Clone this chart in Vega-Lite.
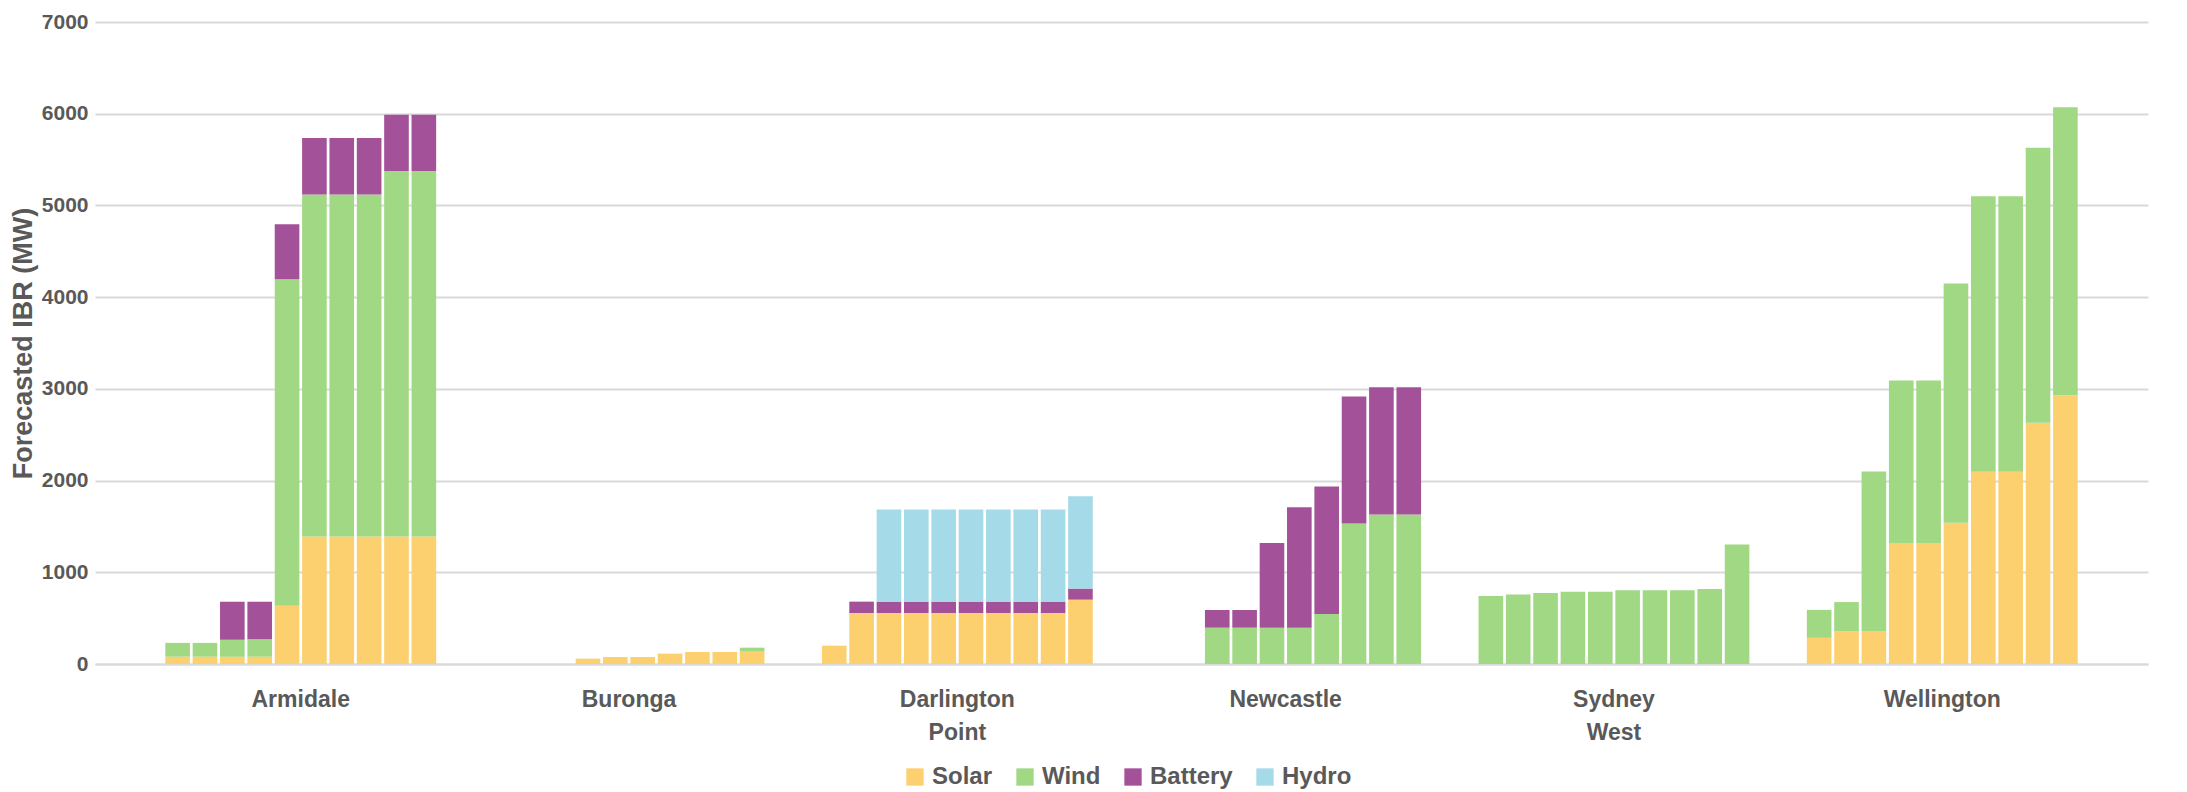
{
  "$schema": "https://vega.github.io/schema/vega-lite/v6.json",
  "width": 2053,
  "height": 642,
  "autosize": {"type": "none"},
  "padding": {"left": 95, "top": 22, "right": 39, "bottom": 128},
  "config": {"view": {"stroke": null}, "font": "Liberation Sans"},
  "datasets": {
    "stackRank": [
      {"type": "Solar", "rank": 1},
      {"type": "Wind", "rank": 2},
      {"type": "Battery", "rank": 3},
      {"type": "Hydro", "rank": 4}
    ],
    "ibr": [
      {"location": "Armidale", "period": 1, "type": "Solar", "value": 80},
      {"location": "Armidale", "period": 1, "type": "Wind", "value": 150},
      {"location": "Armidale", "period": 2, "type": "Solar", "value": 80},
      {"location": "Armidale", "period": 2, "type": "Wind", "value": 150},
      {"location": "Armidale", "period": 3, "type": "Solar", "value": 80},
      {"location": "Armidale", "period": 3, "type": "Wind", "value": 185},
      {"location": "Armidale", "period": 3, "type": "Battery", "value": 415},
      {"location": "Armidale", "period": 4, "type": "Solar", "value": 80},
      {"location": "Armidale", "period": 4, "type": "Wind", "value": 190},
      {"location": "Armidale", "period": 4, "type": "Battery", "value": 410},
      {"location": "Armidale", "period": 5, "type": "Solar", "value": 635},
      {"location": "Armidale", "period": 5, "type": "Wind", "value": 3560},
      {"location": "Armidale", "period": 5, "type": "Battery", "value": 600},
      {"location": "Armidale", "period": 6, "type": "Solar", "value": 1390},
      {"location": "Armidale", "period": 6, "type": "Wind", "value": 3730},
      {"location": "Armidale", "period": 6, "type": "Battery", "value": 615},
      {"location": "Armidale", "period": 7, "type": "Solar", "value": 1390},
      {"location": "Armidale", "period": 7, "type": "Wind", "value": 3730},
      {"location": "Armidale", "period": 7, "type": "Battery", "value": 615},
      {"location": "Armidale", "period": 8, "type": "Solar", "value": 1390},
      {"location": "Armidale", "period": 8, "type": "Wind", "value": 3730},
      {"location": "Armidale", "period": 8, "type": "Battery", "value": 615},
      {"location": "Armidale", "period": 9, "type": "Solar", "value": 1390},
      {"location": "Armidale", "period": 9, "type": "Wind", "value": 3985},
      {"location": "Armidale", "period": 9, "type": "Battery", "value": 615},
      {"location": "Armidale", "period": 10, "type": "Solar", "value": 1390},
      {"location": "Armidale", "period": 10, "type": "Wind", "value": 3985},
      {"location": "Armidale", "period": 10, "type": "Battery", "value": 615},
      {"location": "Buronga", "period": 4, "type": "Solar", "value": 58},
      {"location": "Buronga", "period": 5, "type": "Solar", "value": 76},
      {"location": "Buronga", "period": 6, "type": "Solar", "value": 76},
      {"location": "Buronga", "period": 7, "type": "Solar", "value": 113},
      {"location": "Buronga", "period": 8, "type": "Solar", "value": 131},
      {"location": "Buronga", "period": 9, "type": "Solar", "value": 131},
      {"location": "Buronga", "period": 10, "type": "Solar", "value": 135},
      {"location": "Buronga", "period": 10, "type": "Wind", "value": 43},
      {"location": "Darlington Point", "period": 1, "type": "Solar", "value": 200},
      {"location": "Darlington Point", "period": 2, "type": "Solar", "value": 556},
      {"location": "Darlington Point", "period": 2, "type": "Battery", "value": 124},
      {"location": "Darlington Point", "period": 3, "type": "Solar", "value": 556},
      {"location": "Darlington Point", "period": 3, "type": "Battery", "value": 124},
      {"location": "Darlington Point", "period": 3, "type": "Hydro", "value": 1004},
      {"location": "Darlington Point", "period": 4, "type": "Solar", "value": 556},
      {"location": "Darlington Point", "period": 4, "type": "Battery", "value": 124},
      {"location": "Darlington Point", "period": 4, "type": "Hydro", "value": 1004},
      {"location": "Darlington Point", "period": 5, "type": "Solar", "value": 556},
      {"location": "Darlington Point", "period": 5, "type": "Battery", "value": 124},
      {"location": "Darlington Point", "period": 5, "type": "Hydro", "value": 1004},
      {"location": "Darlington Point", "period": 6, "type": "Solar", "value": 556},
      {"location": "Darlington Point", "period": 6, "type": "Battery", "value": 124},
      {"location": "Darlington Point", "period": 6, "type": "Hydro", "value": 1004},
      {"location": "Darlington Point", "period": 7, "type": "Solar", "value": 556},
      {"location": "Darlington Point", "period": 7, "type": "Battery", "value": 124},
      {"location": "Darlington Point", "period": 7, "type": "Hydro", "value": 1004},
      {"location": "Darlington Point", "period": 8, "type": "Solar", "value": 556},
      {"location": "Darlington Point", "period": 8, "type": "Battery", "value": 124},
      {"location": "Darlington Point", "period": 8, "type": "Hydro", "value": 1004},
      {"location": "Darlington Point", "period": 9, "type": "Solar", "value": 556},
      {"location": "Darlington Point", "period": 9, "type": "Battery", "value": 124},
      {"location": "Darlington Point", "period": 9, "type": "Hydro", "value": 1004},
      {"location": "Darlington Point", "period": 10, "type": "Solar", "value": 702},
      {"location": "Darlington Point", "period": 10, "type": "Battery", "value": 120},
      {"location": "Darlington Point", "period": 10, "type": "Hydro", "value": 1007},
      {"location": "Newcastle", "period": 3, "type": "Wind", "value": 396},
      {"location": "Newcastle", "period": 3, "type": "Battery", "value": 193},
      {"location": "Newcastle", "period": 4, "type": "Wind", "value": 396},
      {"location": "Newcastle", "period": 4, "type": "Battery", "value": 193},
      {"location": "Newcastle", "period": 5, "type": "Wind", "value": 396},
      {"location": "Newcastle", "period": 5, "type": "Battery", "value": 924},
      {"location": "Newcastle", "period": 6, "type": "Wind", "value": 396},
      {"location": "Newcastle", "period": 6, "type": "Battery", "value": 1313},
      {"location": "Newcastle", "period": 7, "type": "Wind", "value": 545},
      {"location": "Newcastle", "period": 7, "type": "Battery", "value": 1390},
      {"location": "Newcastle", "period": 8, "type": "Wind", "value": 1531},
      {"location": "Newcastle", "period": 8, "type": "Battery", "value": 1385},
      {"location": "Newcastle", "period": 9, "type": "Wind", "value": 1629},
      {"location": "Newcastle", "period": 9, "type": "Battery", "value": 1389},
      {"location": "Newcastle", "period": 10, "type": "Wind", "value": 1629},
      {"location": "Newcastle", "period": 10, "type": "Battery", "value": 1389},
      {"location": "Sydney West", "period": 1, "type": "Wind", "value": 742},
      {"location": "Sydney West", "period": 2, "type": "Wind", "value": 758},
      {"location": "Sydney West", "period": 3, "type": "Wind", "value": 773},
      {"location": "Sydney West", "period": 4, "type": "Wind", "value": 788},
      {"location": "Sydney West", "period": 5, "type": "Wind", "value": 788},
      {"location": "Sydney West", "period": 6, "type": "Wind", "value": 803},
      {"location": "Sydney West", "period": 7, "type": "Wind", "value": 803},
      {"location": "Sydney West", "period": 8, "type": "Wind", "value": 803},
      {"location": "Sydney West", "period": 9, "type": "Wind", "value": 818},
      {"location": "Sydney West", "period": 10, "type": "Wind", "value": 1303},
      {"location": "Wellington", "period": 1, "type": "Solar", "value": 285},
      {"location": "Wellington", "period": 1, "type": "Wind", "value": 305},
      {"location": "Wellington", "period": 2, "type": "Solar", "value": 355},
      {"location": "Wellington", "period": 2, "type": "Wind", "value": 320},
      {"location": "Wellington", "period": 3, "type": "Solar", "value": 360},
      {"location": "Wellington", "period": 3, "type": "Wind", "value": 1740},
      {"location": "Wellington", "period": 4, "type": "Solar", "value": 1320},
      {"location": "Wellington", "period": 4, "type": "Wind", "value": 1770},
      {"location": "Wellington", "period": 5, "type": "Solar", "value": 1320},
      {"location": "Wellington", "period": 5, "type": "Wind", "value": 1770},
      {"location": "Wellington", "period": 6, "type": "Solar", "value": 1540},
      {"location": "Wellington", "period": 6, "type": "Wind", "value": 2610},
      {"location": "Wellington", "period": 7, "type": "Solar", "value": 2095},
      {"location": "Wellington", "period": 7, "type": "Wind", "value": 3005},
      {"location": "Wellington", "period": 8, "type": "Solar", "value": 2095},
      {"location": "Wellington", "period": 8, "type": "Wind", "value": 3005},
      {"location": "Wellington", "period": 9, "type": "Solar", "value": 2630},
      {"location": "Wellington", "period": 9, "type": "Wind", "value": 3000},
      {"location": "Wellington", "period": 10, "type": "Solar", "value": 2930},
      {"location": "Wellington", "period": 10, "type": "Wind", "value": 3140}
    ]
  },
  "data": {"name": "ibr"},
  "transform": [
    {"lookup": "type", "from": {"data": {"name": "stackRank"}, "key": "type", "fields": ["rank"]}}
  ],
  "mark": {"type": "bar"},
  "encoding": {
    "x": {
      "field": "location",
      "type": "nominal",
      "sort": ["Armidale", "Buronga", "Darlington Point", "Newcastle", "Sydney West", "Wellington"],
      "scale": {"paddingInner": 0.1667, "paddingOuter": 0.21},
      "axis": {
        "title": null,
        "labelAngle": 0,
        "domain": true,
        "domainColor": "#D9D9D9",
        "domainWidth": 2,
        "ticks": false,
        "labelFont": "Liberation Sans",
        "labelFontSize": 23,
        "labelFontWeight": "bold",
        "labelColor": "#595959",
        "labelPadding": 24,
        "labelLineHeight": 33,
        "labelExpr": "split(datum.label, ' ')"
      }
    },
    "xOffset": {
      "field": "period",
      "type": "ordinal",
      "scale": {"paddingInner": 0.1, "paddingOuter": 0.05}
    },
    "y": {
      "field": "value",
      "type": "quantitative",
      "stack": "zero",
      "scale": {"domain": [0, 7000], "nice": false},
      "axis": {
        "values": [0, 1000, 2000, 3000, 4000, 5000, 6000, 7000],
        "format": "d",
        "title": "Forecasted IBR (MW)",
        "domain": false,
        "ticks": false,
        "gridColor": "#D9D9D9",
        "gridWidth": 2,
        "labelFont": "Liberation Sans",
        "labelFontSize": 21,
        "labelFontWeight": "bold",
        "labelColor": "#595959",
        "labelPadding": 7,
        "titleFont": "Liberation Sans",
        "titleFontSize": 27,
        "titleFontWeight": "bold",
        "titleColor": "#595959",
        "titlePadding": 4
      }
    },
    "color": {
      "field": "type",
      "type": "nominal",
      "sort": ["Solar", "Wind", "Battery", "Hydro"],
      "scale": {
        "domain": ["Solar", "Wind", "Battery", "Hydro"],
        "range": ["#FCD06F", "#A1D884", "#A35299", "#A5DAE8"]
      },
      "legend": {
        "title": null,
        "orient": "none",
        "direction": "horizontal",
        "legendX": 808,
        "legendY": 743,
        "symbolType": "square",
        "symbolSize": 300,
        "symbolStrokeWidth": 0,
        "labelFont": "Liberation Sans",
        "labelFontSize": 24,
        "labelFontWeight": "bold",
        "labelColor": "#595959",
        "labelOffset": 5,
        "columnPadding": 20
      }
    },
    "order": {"field": "rank", "type": "quantitative"}
  }
}
